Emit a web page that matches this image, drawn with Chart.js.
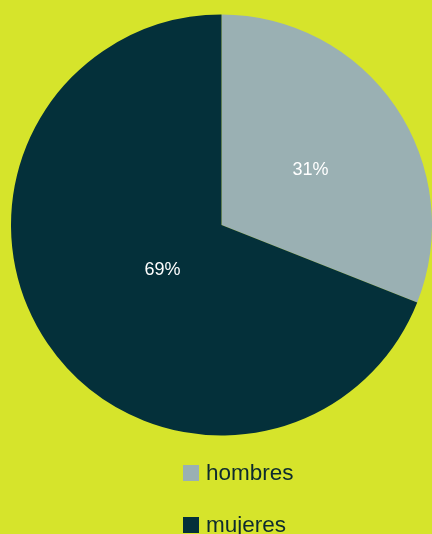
<!DOCTYPE html>
<html>
<head>
<meta charset="utf-8">
<script src="https://cdn.jsdelivr.net/npm/chart.js@4"></script>
<style>
  html, body { margin: 0; padding: 0; background: #d6e42b; }
  #wrap { width: 432px; height: 534px; }
</style>
</head>
<body>
<div id="wrap"><canvas id="myChart"></canvas></div>
<script>
// data
const labels = ['hombres', 'mujeres']
const values = [31, 69]
const colors = ['#9ab0b3', '#04303a']
// how far out along the radius each % label sits
const labelRadius = [0.5, 0.35]

let ctx = document.getElementById('myChart').getContext('2d')

// draw % labels inside slices
const sliceLabels = {
  id: 'sliceLabels',
  afterDatasetsDraw(chart) {
    const c = chart.ctx
    const meta = chart.getDatasetMeta(0)
    const total = values.reduce((a, b) => a + b, 0)
    c.save()
    c.fillStyle = '#ffffff'
    c.font = '18px "Liberation Sans"'
    c.textAlign = 'center'
    c.textBaseline = 'alphabetic'
    meta.data.forEach((arc, i) => {
      const p = arc.getProps(['x', 'y', 'startAngle', 'endAngle', 'outerRadius'], true)
      const mid = (p.startAngle + p.endAngle) / 2
      const r = p.outerRadius * labelRadius[i]
      const pct = Math.round(values[i] / total * 100) + '%'
      c.fillText(pct, p.x + Math.cos(mid) * r + 2, p.y + Math.sin(mid) * r + 9)
    })
    c.restore()
  }
}

// legend stacked in a column under the pie
const columnLegend = {
  id: 'columnLegend',
  afterDraw(chart) {
    const c = chart.ctx
    const left = chart.width / 2 - 33
    let top = chart.chartArea.bottom + 29
    c.save()
    c.font = '22.5px "Liberation Sans"'
    c.textBaseline = 'alphabetic'
    labels.forEach((lab, i) => {
      c.fillStyle = colors[i]
      c.fillRect(left, top, 16, 16)
      c.fillStyle = '#0d2a2f'
      c.fillText(lab, left + 23, top + 15)
      top += 52
    })
    c.restore()
  }
}

const data = {
  labels,
  datasets: [{
    data: values,
    backgroundColor: colors,
    borderWidth: 0,
  }]
}

const config = {
  type: 'pie',
  data: data,
  options: {
    responsive: true,
    maintainAspectRatio: false,
    animation: false,
    layout: {
      padding: { left: 11, right: -1, top: 14, bottom: 98 }
    },
    plugins: {
      legend: { display: false },
      tooltip: { enabled: false },
    },
  },
  plugins: [sliceLabels, columnLegend]
}

const myChart = new Chart(ctx, config)
</script>
</body>
</html>
